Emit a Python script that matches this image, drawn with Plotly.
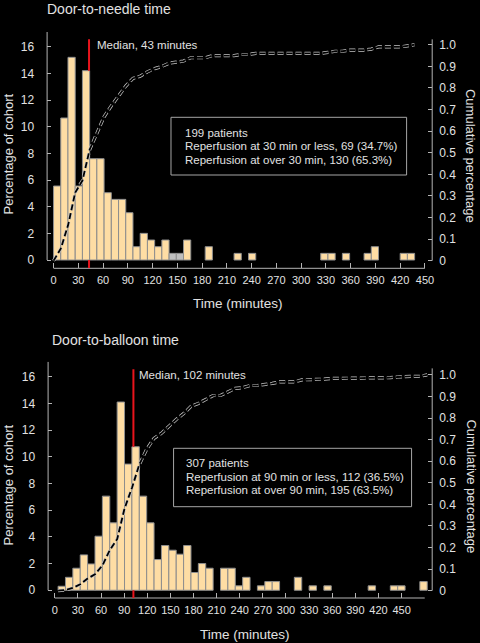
import plotly.graph_objects as go
import numpy as np

W, H = 480, 643

# ---------------- data ----------------
# Door-to-needle: percentage of cohort per histogram bin (bins as drawn on the minutes axis)
needle_pct = [5.55, 10.65, 15.2, 5.55, 14.2, 7.6, 7.6, 5.05, 4.55, 4.55,
              3.55, 1.0, 2.0, 1.5, 1.0, 1.5, 0.5, 0.5, 1.5, 0.0,
              0.0, 1.0, 0.0, 0.0, 0.0, 0.5, 0.0, 0.5, 0.0, 0.0,
              0.0, 0.0, 0.0, 0.0, 0.0, 0.0, 0.0, 0.5, 0.5, 0.0,
              0.5, 0.0, 0.0, 0.5, 1.0, 0.0, 0.0, 0.0, 0.5, 0.5]
needle_bin_start = 0.0
needle_bin_width = 8.75
needle_gray_bins = [16, 17]
needle_median = 43

# Door-to-balloon
balloon_pct = [0.30, 0.97, 1.65, 2.65, 1.97, 4.05, 7.05, 5.05, 14.1, 9.45,
               10.75, 7.05, 5.05, 2.3, 3.35, 3.0, 2.7, 3.35, 1.33, 2.0,
               1.65, 0.0, 1.65, 1.65, 0.33, 0.97, 0.0, 0.33, 0.65, 0.65,
               0.0, 0.0, 0.97, 0.0, 0.33, 0.0, 0.33, 0.0, 0.0, 0.0,
               0.0, 0.0, 0.33, 0.0, 0.0, 0.33, 0.33, 0.0, 0.0, 0.65]
balloon_bin_start = 4.26
balloon_bin_width = 9.58
balloon_median = 102

x_ticks = list(range(0, 451, 30))
left_ticks = list(range(0, 17, 2))
right_ticks = [0, 0.1, 0.2, 0.3, 0.4, 0.5, 0.6, 0.7, 0.8, 0.9, 1.0]
right_labels = ["0", "0.1", "0.2", "0.3", "0.4", "0.5", "0.6", "0.7", "0.8", "0.9", "1.0"]

needle_title = "Door-to-needle time"
balloon_title = "Door-to-balloon time"
needle_box = ["199 patients",
              "Reperfusion at 30 min or less, 69 (34.7%)",
              "Reperfusion at over 30 min, 130 (65.3%)"]
balloon_box = ["307 patients",
               "Reperfusion at 90 min or less, 112 (36.5%)",
               "Reperfusion at over 90 min, 195 (63.5%)"]
needle_median_label = "Median, 43 minutes"
balloon_median_label = "Median, 102 minutes"

# ---------------- style ----------------
FONT = "Liberation Sans, Arial, sans-serif"
TXT = "#e2e2e2"
AX = "#b4b4b4"
PEACH = "#FEDDA4"
GRAY = "#BEBEBE"
EDGE = "#8e8e8e"
RED = "#e8141c"


def px(x):
    return x / W


def py(y):
    return 1 - y / H


fig = go.Figure()


def add_hist(pct, start, width, gray_bins, xa, ya, ya2):
    pct = np.array(pct, dtype=float)
    n = len(pct)
    edges = start + width * np.arange(n + 1)
    centers = (edges[:-1] + edges[1:]) / 2
    keep = pct > 0
    colors = [GRAY if i in gray_bins else PEACH for i in range(n)]
    fig.add_trace(go.Bar(
        x=centers[keep], y=pct[keep], width=width,
        marker=dict(color=[c for c, k in zip(colors, keep) if k],
                    line=dict(color=EDGE, width=1)),
        xaxis=xa, yaxis=ya, showlegend=False, hoverinfo="skip"))
    cum = np.concatenate([[0.0], np.cumsum(pct) / pct.sum()])
    fig.add_trace(go.Scatter(
        x=edges, y=cum, mode="lines",
        line=dict(color="#c8c8c8", width=3.2, dash="6px,3px"),
        xaxis=xa, yaxis=ya2, showlegend=False, hoverinfo="skip"))
    fig.add_trace(go.Scatter(
        x=edges, y=cum, mode="lines",
        line=dict(color="#000000", width=1.8, dash="6px,3px"),
        xaxis=xa, yaxis=ya2, showlegend=False, hoverinfo="skip"))


add_hist(needle_pct, needle_bin_start, needle_bin_width, needle_gray_bins, "x", "y", "y2")
add_hist(balloon_pct, balloon_bin_start, balloon_bin_width, [], "x2", "y3", "y4")

tickfont_x = dict(family=FONT, size=11, color=TXT)
tickfont_y = dict(family=FONT, size=12, color=TXT)

common_x = dict(tickvals=x_ticks, ticks="inside", ticklen=5, tickcolor=AX, tickwidth=1,
                showline=False, showgrid=False, zeroline=False, tickfont=tickfont_x,
                ticklabelstandoff=4, fixedrange=True)
common_yl = dict(tickvals=left_ticks, ticks="inside", ticklen=4, tickcolor=AX, tickwidth=1,
                 showline=False, showgrid=False, zeroline=False, tickfont=tickfont_y,
                 ticklabelstandoff=12, fixedrange=True)
common_yr = dict(tickvals=right_ticks, ticktext=right_labels, ticks="inside", ticklen=4,
                 tickcolor=AX, tickwidth=1, showline=False, showgrid=False, zeroline=False,
                 tickfont=tickfont_y, ticklabelstandoff=6, fixedrange=True, side="right")

fig.update_layout(
    width=W, height=H,
    margin=dict(l=0, r=0, t=0, b=0),
    paper_bgcolor="black", plot_bgcolor="black",
    bargap=0,
    hovermode=False,
    xaxis=dict(domain=[px(47.3), px(434)], range=[-7.8, 458.8], anchor="y", **common_x),
    yaxis=dict(domain=[py(268.3), py(32)], range=[-0.62, 17.1], anchor="x", **common_yl),
    yaxis2=dict(range=[-0.035, 1.059], overlaying="y", anchor="x", **common_yr),
    xaxis2=dict(domain=[px(48.3), px(434)], range=[-8.7, 489.7], anchor="y3", **common_x),
    yaxis3=dict(domain=[py(598), py(361.7)], range=[-0.58, 17.12], anchor="x2", **common_yl),
    yaxis4=dict(range=[-0.034, 1.061], overlaying="y3", anchor="x2", **common_yr),
)

shapes = []
# axis lines (offset style)
for xr, yr, yr2, xend, ytop, rtop in [("x", "y", "y2", 450, 17.1, 1.025), ("x2", "y3", "y4", 480, 17.12, 1.03)]:
    shapes.append(dict(type="line", xref=xr, yref=yr + " domain", x0=0, x1=xend, y0=0, y1=0,
                       line=dict(color=AX, width=1)))
    shapes.append(dict(type="line", xref=xr + " domain", yref=yr, x0=0, x1=0, y0=0, y1=ytop,
                       line=dict(color=AX, width=1)))
    shapes.append(dict(type="line", xref=xr + " domain", yref=yr2, x0=1, x1=1, y0=0, y1=rtop,
                       line=dict(color=AX, width=1)))

# median lines: visible above the bar tops and as a red tick under the bars
for xr, yr, med, pct, start, width, ybot, ytop in [
        ("x", "y", needle_median, needle_pct, needle_bin_start, needle_bin_width, -0.62, 16.56),
        ("x2", "y3", balloon_median, balloon_pct, balloon_bin_start, balloon_bin_width, -0.58, 16.55)]:
    k = int((med - start) // width)
    shapes.append(dict(type="line", xref=xr, yref=yr, x0=med, x1=med, y0=pct[k], y1=ytop,
                       line=dict(color=RED, width=2)))
    shapes.append(dict(type="line", xref=xr, yref=yr, x0=med, x1=med, y0=ybot, y1=0,
                       line=dict(color=RED, width=2)))

# text boxes
shapes.append(dict(type="rect", xref="paper", yref="paper", x0=px(171.7), x1=px(408.3),
                   y0=py(175), y1=py(117.3), line=dict(color="#a6a6a6", width=1),
                   fillcolor="rgba(0,0,0,0)"))
shapes.append(dict(type="rect", xref="paper", yref="paper", x0=px(174.3), x1=px(413.3),
                   y0=py(506.7), y1=py(448.3), line=dict(color="#a6a6a6", width=1),
                   fillcolor="rgba(0,0,0,0)"))
fig.update_layout(shapes=shapes)

ann = []


def text(x, y, s, size, xanchor="left", angle=0):
    ann.append(dict(x=px(x), y=py(y), xref="paper", yref="paper", text=s, showarrow=False,
                    xanchor=xanchor, yanchor="middle", textangle=angle,
                    font=dict(family=FONT, size=size, color=TXT)))


text(45, 9.5, needle_title, 14)
text(50, 339.5, balloon_title, 14)
text(95, 45, needle_median_label, 11.5)
text(137.5, 375, balloon_median_label, 11.5)
for i, s in enumerate(needle_box):
    text(183.5, 132.5 + 13.5 * i, s, 11.5)
for i, s in enumerate(balloon_box):
    text(185, 463 + 13.5 * i, s, 11.5)
text(238.5, 303, "Time (minutes)", 13.5, xanchor="center")
text(246, 634, "Time (minutes)", 13.5, xanchor="center")
text(9, 153.5, "Percentage of cohort", 13, xanchor="center", angle=-90)
text(9, 484.5, "Percentage of cohort", 13, xanchor="center", angle=-90)
text(473, 156, "Cumulative percentage", 13, xanchor="center", angle=90)
text(473, 486.5, "Cumulative percentage", 13, xanchor="center", angle=90)
fig.update_layout(annotations=ann)

fig.write_html("out.html",
               config={"displayModeBar": False, "staticPlot": True},
               post_script="document.body.style.margin='0';document.body.style.overflow='hidden';")
